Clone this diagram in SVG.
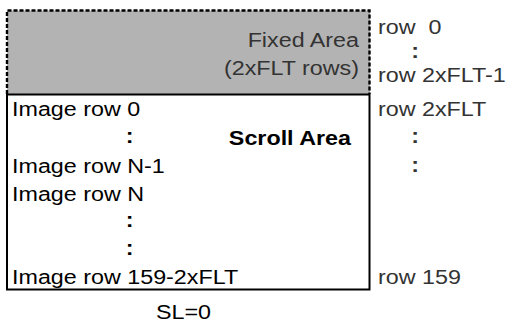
<svg xmlns="http://www.w3.org/2000/svg" width="510" height="325" viewBox="0 0 510 325">
<style>
text{font-family:"Liberation Sans",Arial,sans-serif;font-size:21px}
.l{fill:#000}
.r{fill:#333}
.c{text-anchor:middle;font-weight:bold}
.b{font-weight:bold;text-anchor:end}
.f{fill:#333;text-anchor:end}
</style>
<rect width="510" height="325" fill="#fff"/>
<g id="fixed-area">
<rect x="7" y="10.5" width="363" height="84" fill="#b3b3b3"/>
<path d="M7,94 V10.5 H369.5 V94" fill="none" stroke="#000" stroke-width="2.4" stroke-dasharray="4,2"/>
<text class="f" transform="translate(359,47) scale(1.11,1)">Fixed Area</text>
<text class="f" transform="translate(359,75) scale(1.11,1)">(2xFLT rows)</text>
</g>
<g id="scroll-area">
<rect x="7" y="94.5" width="362.5" height="195" fill="#fff" stroke="#000" stroke-width="2"/>
<text class="l" transform="translate(12,116) scale(1.11,1)">Image row 0</text>
<text class="l c" transform="translate(129.5,143) scale(1.11,1)">:</text>
<text class="b" transform="translate(351,145) scale(1.11,1)">Scroll Area</text>
<text class="l" transform="translate(12,173) scale(1.11,1)">Image row N-1</text>
<text class="l" transform="translate(12,201) scale(1.11,1)">Image row N</text>
<text class="l c" transform="translate(129.5,227) scale(1.11,1)">:</text>
<text class="l c" transform="translate(129.5,255) scale(1.11,1)">:</text>
<text class="l" transform="translate(12,284) scale(1.11,1)">Image row 159-2xFLT</text>
</g>
<g id="row-labels">
<text class="r" transform="translate(378,34) scale(1.11,1)" xml:space="preserve">row  0</text>
<text class="r c" transform="translate(415,58) scale(1.11,1)">:</text>
<text class="r" transform="translate(378,82) scale(1.11,1)">row 2xFLT-1</text>
<text class="r" transform="translate(378,116) scale(1.11,1)">row 2xFLT</text>
<text class="r c" transform="translate(415,143) scale(1.11,1)">:</text>
<text class="r c" transform="translate(415,172) scale(1.11,1)">:</text>
<text class="r" transform="translate(378,284) scale(1.11,1)">row 159</text>
</g>
<g id="connectors"></g>
<text class="l" transform="translate(156,319) scale(1.11,1)">SL=0</text>
</svg>
